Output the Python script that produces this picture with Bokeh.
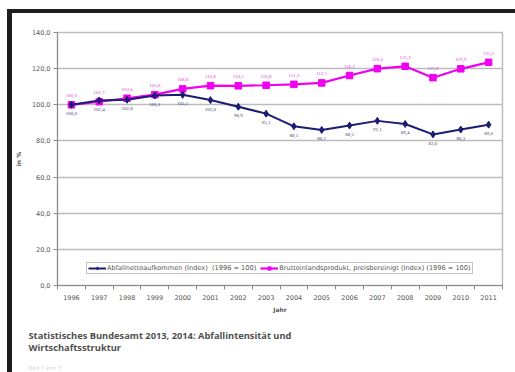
from bokeh.plotting import figure
from bokeh.models import (ColumnDataSource, FixedTicker, CustomJSTickFormatter, Legend,
                          LegendItem, LabelSet, Range1d, Title)
from bokeh.embed import file_html
from bokeh.resources import INLINE

# Index series (1996 = 100)
years = [1996, 1997, 1998, 1999, 2000, 2001, 2002, 2003,
         2004, 2005, 2006, 2007, 2008, 2009, 2010, 2011]
abfall = [100.0, 102.4, 102.8, 105.1, 105.5, 102.6, 98.9, 95.1,
          88.1, 86.1, 88.5, 91.1, 89.4, 83.6, 86.3, 89.0]
bip = [100.0, 101.7, 103.6, 105.6, 108.8, 110.6, 110.5, 110.8,
       111.3, 112.1, 116.2, 120.0, 121.3, 115.0, 119.9, 123.5]
y_ticks = [0, 20, 40, 60, 80, 100, 120, 140]

name_abfall = "Abfallnettoaufkommen (Index)  (1996 = 100)"
name_bip = "Bruttoinlandsprodukt, preisbereinigt (Index) (1996 = 100)"
source_lines = ["Statistisches Bundesamt 2013, 2014: Abfallintensität und",
                "Wirtschaftsstruktur"]
page_note = "Bild 1 von 3"


def de(v):
    return f"{v:.1f}".replace(".", ",")


src = ColumnDataSource(dict(
    x=years, abfall=abfall, bip=bip,
    abfall_txt=[de(v) for v in abfall],
    bip_txt=[de(v) for v in bip],
))

FONT = "DejaVu Sans"
NAVY = "#1c1c72"
MAGENTA = "#f000f0"

p = figure(width=515, height=372, output_backend="svg", toolbar_location=None,
           x_range=Range1d(1995.5, 2011.5), y_range=Range1d(0, 140),
           min_border_left=57, min_border_right=13, min_border_top=32,
           min_border_bottom=87)
p.outline_line_color = "#bdbdbd"
p.outline_line_width = 1.5
p.background_fill_color = "white"
# transparent surround so the dark page edges (CSS inset shadows) show through
p.border_fill_alpha = 0
p.styles = {"background-color": "white",
            "box-shadow": "inset 7px 9px 0 0 #ffffff, inset 12px 13px 0 0 #1e1e1e"}

p.xgrid.visible = False
p.ygrid.grid_line_color = "#bcbcbc"
p.ygrid.grid_line_width = 1.5

# y axis
p.yaxis.ticker = FixedTicker(ticks=y_ticks)
p.yaxis.formatter = CustomJSTickFormatter(code="return tick.toFixed(1).replace('.', ',');")
p.yaxis.axis_line_color = "#8a8a8a"
p.yaxis.major_tick_line_color = "#8a8a8a"
p.yaxis.major_tick_out = 4
p.yaxis.major_tick_in = 0
p.yaxis.minor_tick_line_color = None
p.yaxis.major_label_text_font = FONT
p.yaxis.major_label_text_font_size = "6.5px"
p.yaxis.major_label_text_color = "#555555"
p.yaxis.major_label_standoff = 3
p.yaxis.axis_label = "in %"
p.yaxis.axis_label_text_font = FONT
p.yaxis.axis_label_text_font_size = "6px"
p.yaxis.axis_label_text_font_style = "bold"
p.yaxis.axis_label_text_color = "#555555"
p.yaxis.axis_label_standoff = 7

# x axis: labels at the years, tick marks between them
p.xaxis.ticker = FixedTicker(ticks=years, minor_ticks=[y - 0.5 for y in years] + [2011.5])
p.xaxis.formatter = CustomJSTickFormatter(code="return tick.toFixed(0);")
p.xaxis.axis_line_color = "#8a8a8a"
p.xaxis.major_tick_line_color = None
p.xaxis.minor_tick_line_color = "#8a8a8a"
p.xaxis.minor_tick_out = 4
p.xaxis.minor_tick_in = 0
p.xaxis.major_label_text_font = FONT
p.xaxis.major_label_text_font_size = "6.5px"
p.xaxis.major_label_text_color = "#555555"
p.xaxis.major_label_standoff = 3
p.xaxis.axis_label = "Jahr"
p.xaxis.axis_label_text_font = FONT
p.xaxis.axis_label_text_font_size = "6px"
p.xaxis.axis_label_text_font_style = "bold"
p.xaxis.axis_label_text_color = "#555555"
p.xaxis.axis_label_standoff = 3

# series
l_bip = p.line("x", "bip", source=src, line_color=MAGENTA, line_width=2.2)
s_bip = p.scatter("x", "bip", source=src, marker="square", size=6.5,
                  fill_color=MAGENTA, line_color=MAGENTA)
l_ab = p.line("x", "abfall", source=src, line_color=NAVY, line_width=2)
s_ab = p.scatter("x", "abfall", source=src, marker="diamond", size=7,
                 fill_color=NAVY, line_color=NAVY)

p.add_layout(LabelSet(x="x", y="bip", text="bip_txt", source=src, y_offset=9,
                      text_align="center", text_baseline="middle",
                      text_font=FONT, text_font_size="5px", text_color="#d83cd8"))
p.add_layout(LabelSet(x="x", y="abfall", text="abfall_txt", source=src, y_offset=-9,
                      text_align="center", text_baseline="middle",
                      text_font=FONT, text_font_size="5px", text_color="#40406a"))

legend = Legend(items=[LegendItem(label=name_abfall, renderers=[l_ab, s_ab]),
                       LegendItem(label=name_bip, renderers=[l_bip, s_bip])],
                location=(29, 11), orientation="horizontal",
                label_text_font=FONT, label_text_font_size="6.6px",
                label_text_color="#555555", glyph_width=18, glyph_height=8,
                label_height=8, label_standoff=1, spacing=4, padding=1, margin=0,
                border_line_color="#8a8a8a", border_line_width=1,
                background_fill_color="white", background_fill_alpha=1)
p.add_layout(legend)

# source note under the chart
p.add_layout(Title(text="\n".join(source_lines), align="left", offset=-29, standoff=23,
                   text_font="Open Sans", text_font_size="9.3px", text_font_style="bold",
                   text_color="#505050", text_line_height=0.95), "below")
p.add_layout(Title(text=page_note, align="left", offset=-29, standoff=-12,
                   text_font="Open Sans", text_font_size="6px", text_font_style="normal",
                   text_color="#d4d4d4"), "below")

open("out.html", "w").write(file_html(p, INLINE))
